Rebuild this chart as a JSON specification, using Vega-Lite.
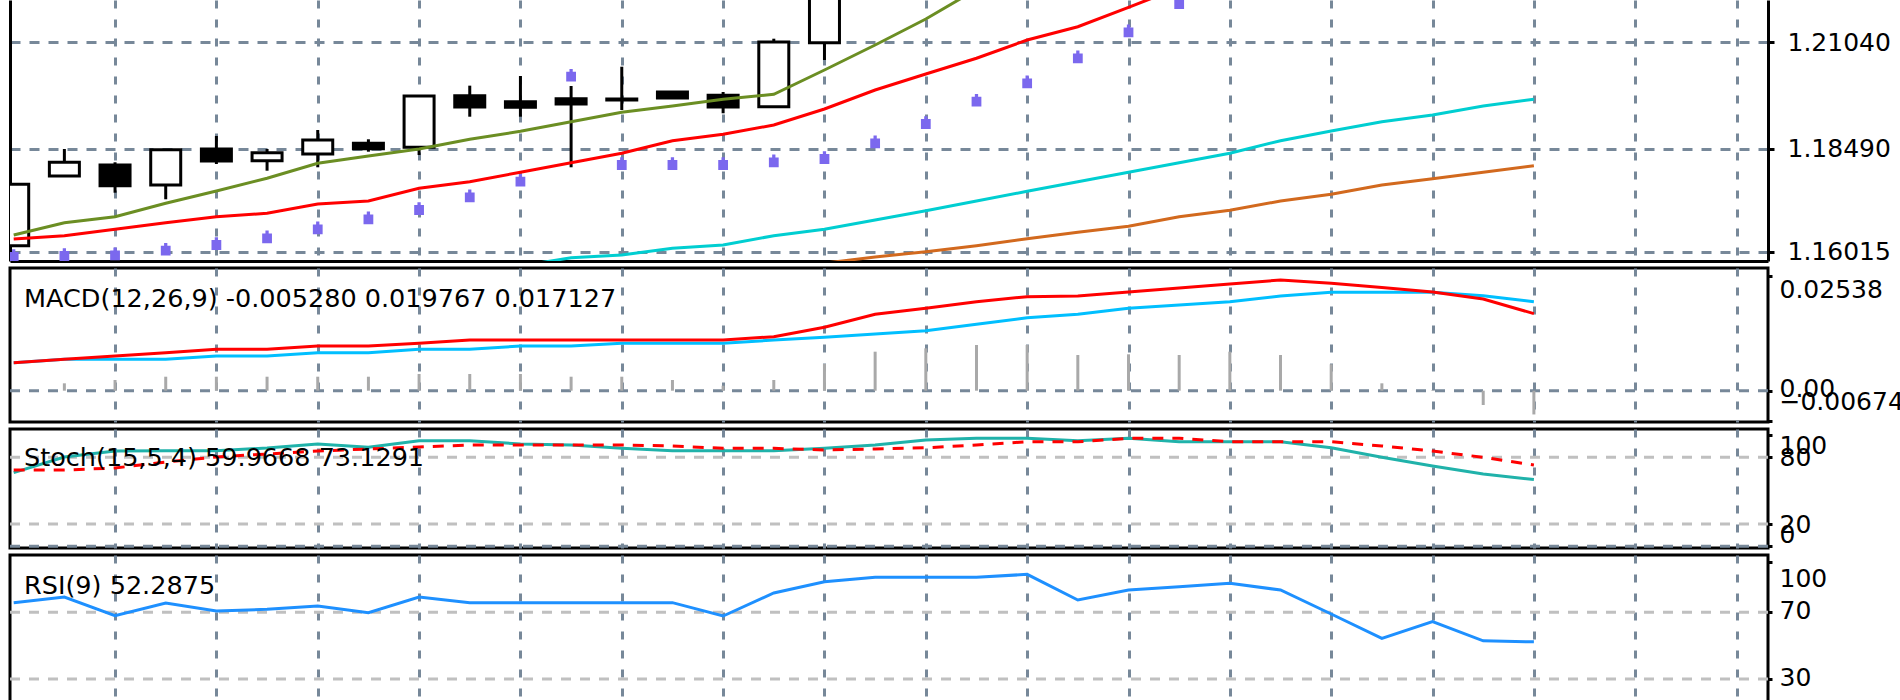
{
  "$schema": "https://vega.github.io/schema/vega-lite/v6.json",
  "padding": {"left": 6, "top": 0, "right": 0, "bottom": 0},
  "background": "white",
  "spacing": 7,
  "bounds": "flush",
  "datasets": {
    "bars": [
      {"i": 0, "o": 1.16159, "h": 1.17633, "l": 1.16159, "c": 1.17633, "sar": 1.15888, "m1": 1.16416, "m2": 1.1632, "macd": 0.00622, "sig": 0.00622, "hist": 0, "st": 66.2, "ss": 68.6, "rsi": 75.8},
      {"i": 1, "o": 1.17832, "h": 1.1848, "l": 1.17832, "c": 1.18161, "sar": 1.15912, "m1": 1.16711, "m2": 1.16399, "macd": 0.00698, "sig": 0.00698, "hist": 0.00164, "st": 80.3, "ss": 68.6, "rsi": 79.2},
      {"i": 2, "o": 1.18096, "h": 1.18161, "l": 1.17431, "c": 1.17599, "sar": 1.15929, "m1": 1.16855, "m2": 1.16553, "macd": 0.00771, "sig": 0.00698, "hist": 0.00238, "st": 85.7, "ss": 70.4, "rsi": 68.0},
      {"i": 3, "o": 1.17616, "h": 1.18463, "l": 1.17273, "c": 1.18463, "sar": 1.16039, "m1": 1.17177, "m2": 1.16711, "macd": 0.00844, "sig": 0.00698, "hist": 0.00311, "st": 85.9, "ss": 75.8, "rsi": 75.6},
      {"i": 4, "o": 1.1848, "h": 1.18792, "l": 1.1812, "c": 1.18192, "sar": 1.16176, "m1": 1.17472, "m2": 1.16855, "macd": 0.0092, "sig": 0.00771, "hist": 0.00311, "st": 85.9, "ss": 80.3, "rsi": 70.8},
      {"i": 5, "o": 1.18199, "h": 1.1848, "l": 1.17959, "c": 1.18391, "sar": 1.16337, "m1": 1.17777, "m2": 1.16937, "macd": 0.0092, "sig": 0.00771, "hist": 0.00311, "st": 88.4, "ss": 83.0, "rsi": 71.8},
      {"i": 6, "o": 1.1836, "h": 1.18936, "l": 1.18041, "c": 1.18696, "sar": 1.16553, "m1": 1.18137, "m2": 1.1716, "macd": 0.00993, "sig": 0.00844, "hist": 0.00311, "st": 92.0, "ss": 85.7, "rsi": 73.8},
      {"i": 7, "o": 1.18617, "h": 1.18713, "l": 1.18415, "c": 1.18487, "sar": 1.16793, "m1": 1.18312, "m2": 1.17232, "macd": 0.00993, "sig": 0.00844, "hist": 0.00311, "st": 89.0, "ss": 87.5, "rsi": 69.8},
      {"i": 8, "o": 1.18521, "h": 1.19752, "l": 1.18336, "c": 1.19752, "sar": 1.17016, "m1": 1.1848, "m2": 1.17537, "macd": 0.01053, "sig": 0.0092, "hist": 0.00371, "st": 94.9, "ss": 89.3, "rsi": 79.2},
      {"i": 9, "o": 1.19759, "h": 1.2, "l": 1.19255, "c": 1.19488, "sar": 1.17321, "m1": 1.18713, "m2": 1.17695, "macd": 0.01127, "sig": 0.0092, "hist": 0.00371, "st": 94.9, "ss": 91.1, "rsi": 75.8},
      {"i": 10, "o": 1.19615, "h": 1.20232, "l": 1.19255, "c": 1.19481, "sar": 1.17695, "m1": 1.18905, "m2": 1.17921, "m3": 1.15672, "macd": 0.01127, "sig": 0.00993, "hist": 0.00371, "st": 92.0, "ss": 91.1, "rsi": 75.8},
      {"i": 11, "o": 1.19687, "h": 1.19992, "l": 1.18041, "c": 1.1956, "sar": 1.20215, "m1": 1.19135, "m2": 1.18151, "m3": 1.15871, "macd": 0.01127, "sig": 0.00993, "hist": 0.00311, "st": 91.1, "ss": 91.1, "rsi": 75.8},
      {"i": 12, "o": 1.19656, "h": 1.20455, "l": 1.19416, "c": 1.1968, "sar": 1.18096, "m1": 1.19361, "m2": 1.18377, "m3": 1.15936, "macd": 0.01127, "sig": 0.01053, "hist": 0.00311, "st": 88.1, "ss": 91.1, "rsi": 75.8},
      {"i": 13, "o": 1.19848, "h": 1.19848, "l": 1.19704, "c": 1.19704, "sar": 1.18096, "m1": 1.19512, "m2": 1.18679, "m3": 1.16097, "macd": 0.01127, "sig": 0.01053, "hist": 0.00238, "st": 85.9, "ss": 90.2, "rsi": 75.8},
      {"i": 14, "o": 1.19769, "h": 1.19848, "l": 1.19337, "c": 1.19488, "sar": 1.18096, "m1": 1.19673, "m2": 1.18833, "m3": 1.16176, "macd": 0.01127, "sig": 0.01053, "hist": 0.00111, "st": 85.9, "ss": 88.1, "rsi": 67.8},
      {"i": 15, "o": 1.19495, "h": 1.21127, "l": 1.19495, "c": 1.21048, "sar": 1.18161, "m1": 1.19793, "m2": 1.19056, "m3": 1.16399, "macd": 0.012, "sig": 0.01127, "hist": 0.00238, "st": 85.9, "ss": 88.1, "rsi": 81.6},
      {"i": 16, "o": 1.21031, "h": 1.226, "l": 1.20616, "c": 1.225, "sar": 1.1824, "m1": 1.20376, "m2": 1.1944, "m3": 1.16553, "m4": 1.1574, "macd": 0.01409, "sig": 0.01187, "hist": 0.00593, "st": 88.1, "ss": 86.6, "rsi": 88.4},
      {"i": 17, "sar": 1.18617, "m1": 1.20976, "m2": 1.19896, "m3": 1.16776, "m4": 1.15888, "macd": 0.01698, "sig": 0.0126, "hist": 0.00867, "st": 91.1, "ss": 87.5, "rsi": 91.0},
      {"i": 18, "sar": 1.1908, "m1": 1.216, "m2": 1.2028, "m3": 1.16999, "m4": 1.16015, "macd": 0.01831, "sig": 0.01333, "hist": 0.00942, "st": 95.6, "ss": 88.6, "rsi": 91.0},
      {"i": 19, "sar": 1.19615, "m1": 1.2231, "m2": 1.20657, "m3": 1.17232, "m4": 1.16159, "macd": 0.01978, "sig": 0.01476, "hist": 0.01016, "st": 97.1, "ss": 91.1, "rsi": 91.0},
      {"i": 20, "sar": 1.20057, "m1": 1.23, "m2": 1.21096, "m3": 1.17465, "m4": 1.16327, "macd": 0.02089, "sig": 0.01622, "hist": 0.01016, "st": 97.1, "ss": 94.0, "rsi": 92.8},
      {"i": 21, "sar": 1.20657, "m2": 1.21415, "m3": 1.17695, "m4": 1.16481, "macd": 0.02104, "sig": 0.01698, "hist": 0.00793, "st": 94.9, "ss": 94.0, "rsi": 77.4},
      {"i": 22, "sar": 1.21281, "m2": 1.21881, "m3": 1.17921, "m4": 1.16625, "macd": 0.02193, "sig": 0.01831, "hist": 0.00809, "st": 97.1, "ss": 97.1, "rsi": 83.4},
      {"i": 23, "sar": 1.2196, "m2": 1.2235, "m3": 1.18151, "m4": 1.16855, "macd": 0.02282, "sig": 0.01904, "hist": 0.00793, "st": 94.0, "ss": 97.1, "rsi": 85.4},
      {"i": 24, "m3": 1.18377, "m4": 1.17009, "macd": 0.02371, "sig": 0.01978, "hist": 0.00867, "st": 94.0, "ss": 94.0, "rsi": 87.4},
      {"i": 25, "m3": 1.18679, "m4": 1.17232, "macd": 0.0246, "sig": 0.02104, "hist": 0.00793, "st": 94.0, "ss": 94.0, "rsi": 83.4},
      {"i": 26, "m3": 1.18912, "m4": 1.17393, "macd": 0.02387, "sig": 0.02187, "hist": 0.00587, "st": 88.6, "ss": 94.0, "rsi": 69.0},
      {"i": 27, "m3": 1.19135, "m4": 1.17616, "macd": 0.02293, "sig": 0.02187, "hist": 0.00164, "st": 80.0, "ss": 90.2, "rsi": 54.4},
      {"i": 28, "m3": 1.19296, "m4": 1.17767, "macd": 0.02193, "sig": 0.02187, "hist": 0.0001, "st": 72.2, "ss": 85.7, "rsi": 64.4},
      {"i": 29, "m3": 1.19512, "m4": 1.17921, "macd": 0.02038, "sig": 0.02111, "hist": -0.00318, "st": 65.0, "ss": 80.0, "rsi": 52.9},
      {"i": 30, "m3": 1.19673, "m4": 1.18079, "macd": 0.01713, "sig": 0.01977, "hist": -0.00528, "st": 59.97, "ss": 73.13, "rsi": 52.29}
    ]
  },
  "vconcat": [
    {
      "width": 1758,
      "height": 261,
      "view": {"stroke": null},
      "data": {"name": "bars"},
      "resolve": {"scale": {"y": "independent"}},
      "layer": [
        {
          "encoding": {
            "x": {"field": "i", "type": "quantitative",
              "scale": {"domain": [-0.073, 34.62], "nice": false, "zero": false, "padding": 0},
              "axis": {"values": [2,4,6,8,10,12,14,16,18,20,22,24,26,28,30,32,34], "grid": true, "gridColor": "#778899", "gridDash": [8, 11], "gridWidth": 3, "labels": false, "ticks": false, "domain": true, "domainColor": "black", "domainWidth": 3, "title": null}}
          },
          "layer": [
            {
              "mark": {"type": "rule", "color": "black", "strokeWidth": 3, "clip": true},
              "encoding": {
                "y": {"field": "l", "type": "quantitative",
                  "scale": {"domain": [1.157918, 1.220558], "nice": false, "zero": false},
                  "axis": {"orient": "right", "values": [1.16015, 1.1849, 1.2104], "format": ".5f", "grid": true, "gridColor": "#778899", "gridDash": [10, 9], "gridWidth": 3, "ticks": true, "tickSize": 6, "labelPadding": 13, "labelOverlap": false, "domain": true, "title": null}},
                "y2": {"field": "h"}
              }
            },
            {
              "mark": {"type": "bar", "width": 30, "stroke": "black", "strokeWidth": 3, "clip": true},
              "encoding": {
                "y": {"field": "o", "type": "quantitative"},
                "y2": {"field": "c"},
                "fill": {"condition": {"test": "datum.c >= datum.o", "value": "white"}, "value": "black"}
              }
            },
            {"mark": {"type": "line", "color": "#00CED1", "strokeWidth": 3, "clip": true}, "encoding": {"y": {"field": "m3", "type": "quantitative"}}},
            {"mark": {"type": "line", "color": "#D2691E", "strokeWidth": 3, "clip": true}, "encoding": {"y": {"field": "m4", "type": "quantitative"}}},
            {"mark": {"type": "line", "color": "#FF0000", "strokeWidth": 3, "clip": true}, "encoding": {"y": {"field": "m2", "type": "quantitative"}}},
            {"mark": {"type": "line", "color": "#6B8E23", "strokeWidth": 3, "clip": true}, "encoding": {"y": {"field": "m1", "type": "quantitative"}}}
          ]
        },
        {
          "mark": {"type": "point", "shape": "M-0.75,-0.75H0.75V0.75H-0.75Z M-0.25,-0.75V-1.2H0.25V-0.75Z", "filled": true, "color": "#7B68EE", "opacity": 1, "size": 170, "clip": true},
          "encoding": {
            "x": {"field": "i", "type": "quantitative"},
            "y": {"field": "sar", "type": "quantitative",
              "scale": {"domain": [1.157918, 1.220558], "nice": false, "zero": false},
              "axis": {"orient": "left", "labels": false, "ticks": false, "grid": false, "domain": true, "title": null}}
          }
        }
      ]
    },
    {
      "width": 1758,
      "height": 154,
      "data": {"name": "bars"},
      "title": {"text": "MACD(12,26,9) -0.005280 0.019767 0.017127", "anchor": "start", "frame": "group", "orient": "top", "offset": -64, "baseline": "alphabetic", "dx": 14, "fontSize": 25.5, "font": "DejaVu Sans", "fontWeight": "normal", "color": "black"},
      "layer": [
        {
          "data": {"values": [{"lv": 0}]},
          "mark": {"type": "rule", "color": "#778899", "strokeWidth": 3, "strokeDash": [10, 9]},
          "encoding": {
            "y": {"field": "lv", "type": "quantitative",
              "scale": {"domain": [-0.006956, 0.027267], "nice": false, "zero": false},
              "axis": {"orient": "right", "values": [-0.00674, 0, 0.02538], "labelExpr": "datum.value == 0 ? '0.00' : format(datum.value, '.5f')", "grid": false, "ticks": true, "tickSize": 4, "labelPadding": 7, "labelOverlap": false, "domain": false, "title": null,
                "labelOffset": {"condition": [{"test": "datum.value > 0.02", "value": 13}, {"test": "datum.value < -0.005", "value": -20}], "value": -2}}}
          }
        },
        {
          "mark": {"type": "rule", "color": "#A9A9A9", "strokeWidth": 3},
          "encoding": {
            "x": {"field": "i", "type": "quantitative",
              "scale": {"domain": [-0.073, 34.62], "nice": false, "zero": false, "padding": 0},
              "axis": {"values": [2,4,6,8,10,12,14,16,18,20,22,24,26,28,30,32,34], "grid": true, "gridColor": "#778899", "gridDash": [8, 11], "gridWidth": 3, "labels": false, "ticks": false, "domain": false, "title": null}},
            "y": {"field": "hist", "type": "quantitative"},
            "y2": {"datum": 0}
          }
        },
        {"mark": {"type": "line", "color": "#00BFFF", "strokeWidth": 3}, "encoding": {"x": {"field": "i", "type": "quantitative"}, "y": {"field": "sig", "type": "quantitative"}}},
        {"mark": {"type": "line", "color": "#FF0000", "strokeWidth": 3}, "encoding": {"x": {"field": "i", "type": "quantitative"}, "y": {"field": "macd", "type": "quantitative"}}}
      ]
    },
    {
      "width": 1758,
      "height": 119,
      "data": {"name": "bars"},
      "title": {"text": "Stoch(15,5,4) 59.9668 73.1291", "anchor": "start", "frame": "group", "orient": "top", "offset": -62.5, "baseline": "alphabetic", "dx": 14, "fontSize": 25.5, "font": "DejaVu Sans", "fontWeight": "normal", "color": "black"},
      "resolve": {"scale": {"y": "independent"}},
      "layer": [
        {
          "data": {"values": [{"lv": 80}, {"lv": 20}]},
          "mark": {"type": "rule", "color": "#C0C0C0", "strokeWidth": 3, "strokeDash": [10, 9]},
          "encoding": {
            "y": {"field": "lv", "type": "quantitative",
              "scale": {"domain": [-1.6, 105.5], "nice": false, "zero": false},
              "axis": {"orient": "right", "offset": 0, "values": [20, 80], "grid": false, "ticks": true, "tickSize": 4, "labelPadding": 7, "labelOverlap": false, "domain": false, "title": null}}
          }
        },
        {
          "layer": [
            {
              "data": {"values": [{"lv": 0}]},
              "mark": {"type": "rule", "color": "#778899", "strokeWidth": 3, "strokeDash": [10, 9]},
              "encoding": {
                "y": {"field": "lv", "type": "quantitative",
                  "scale": {"domain": [-1.6, 105.5], "nice": false, "zero": false},
                  "axis": {"orient": "right", "offset": 0, "values": [0, 100], "grid": false, "ticks": true, "tickSize": 4, "labelPadding": 7, "labelOverlap": false, "domain": false, "title": null,
                    "labelOffset": {"condition": [{"test": "datum.value > 90", "value": 10}], "value": -12}}}
              }
            },
            {
              "mark": {"type": "line", "color": "#20B2AA", "strokeWidth": 3},
              "encoding": {
                "x": {"field": "i", "type": "quantitative",
                  "scale": {"domain": [-0.073, 34.62], "nice": false, "zero": false, "padding": 0},
                  "axis": {"values": [2,4,6,8,10,12,14,16,18,20,22,24,26,28,30,32,34], "grid": true, "gridColor": "#778899", "gridDash": [8, 11], "gridWidth": 3, "labels": false, "ticks": false, "domain": false, "title": null}},
                "y": {"field": "st", "type": "quantitative"}
              }
            },
            {"mark": {"type": "line", "color": "#FF0000", "strokeWidth": 3, "strokeDash": [11, 9]}, "encoding": {"x": {"field": "i", "type": "quantitative"}, "y": {"field": "ss", "type": "quantitative"}}}
          ]
        }
      ]
    },
    {
      "width": 1758,
      "height": 180,
      "data": {"name": "bars"},
      "title": {"text": "RSI(9) 52.2875", "anchor": "start", "frame": "group", "orient": "top", "offset": -64.5, "baseline": "alphabetic", "dx": 14, "fontSize": 25.5, "font": "DejaVu Sans", "fontWeight": "normal", "color": "black"},
      "layer": [
        {
          "data": {"values": [{"lv": 70}, {"lv": 30}]},
          "mark": {"type": "rule", "color": "#C0C0C0", "strokeWidth": 3, "strokeDash": [10, 9]},
          "encoding": {
            "y": {"field": "lv", "type": "quantitative",
              "scale": {"domain": [-3.6, 104.4], "nice": false, "zero": false},
              "axis": {"orient": "right", "values": [30, 70, 100], "grid": false, "ticks": true, "tickSize": 4, "labelPadding": 7, "labelOverlap": false, "domain": false, "title": null,
                "labelOffset": {"condition": [{"test": "datum.value > 90", "value": 16}], "value": -2}}}
          }
        },
        {
          "mark": {"type": "line", "color": "#1E90FF", "strokeWidth": 3},
          "encoding": {
            "x": {"field": "i", "type": "quantitative",
              "scale": {"domain": [-0.073, 34.62], "nice": false, "zero": false, "padding": 0},
              "axis": {"values": [2,4,6,8,10,12,14,16,18,20,22,24,26,28,30,32,34], "grid": true, "gridColor": "#778899", "gridDash": [8, 11], "gridWidth": 3, "labels": false, "ticks": false, "domain": false, "title": null}},
            "y": {"field": "rsi", "type": "quantitative"}
          }
        }
      ]
    }
  ],
  "config": {
    "view": {"stroke": "black", "strokeWidth": 3},
    "font": "DejaVu Sans",
    "axis": {"labelFont": "DejaVu Sans", "labelFontSize": 25, "labelColor": "black", "tickColor": "black", "tickWidth": 3, "domainColor": "black", "domainWidth": 3, "labelOverlap": false}
  }
}
